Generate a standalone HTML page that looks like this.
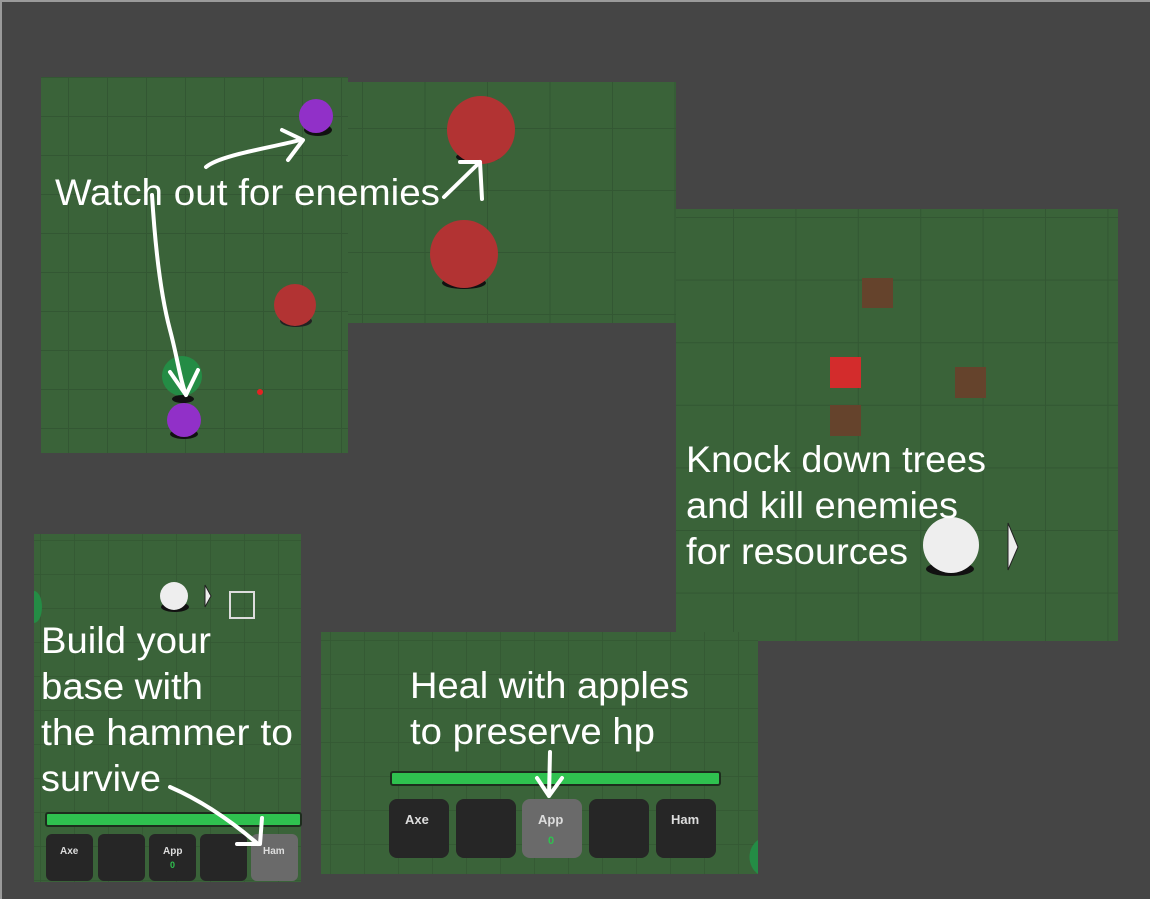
<!DOCTYPE html>
<html><head><meta charset="utf-8"><style>
html,body{margin:0;padding:0;background:#444;}
svg{display:block}
text{font-family:"Liberation Sans",sans-serif;fill:#fff;}
.s{font-family:"Liberation Sans",sans-serif;font-weight:bold;fill:#ddd;font-size:13px}
</style></head><body>
<svg width="1150" height="899" viewBox="0 0 1150 899" xmlns="http://www.w3.org/2000/svg">
<defs>
<pattern id="g1" x="29" y="-1" width="39" height="39" patternUnits="userSpaceOnUse"><rect width="39" height="39" fill="#3a6339"/><path d="M0 0V39M0 0H39" stroke="#335733" stroke-width="2" fill="none"/></pattern>
<pattern id="g2" x="362" y="128" width="62.5" height="62" patternUnits="userSpaceOnUse"><rect width="63" height="63" fill="#3a6339"/><path d="M0 0V63M0 0H63" stroke="#335733" stroke-width="2" fill="none"/></pattern>
<pattern id="g3" x="733" y="217" width="62.4" height="62.6" patternUnits="userSpaceOnUse"><rect width="63" height="63" fill="#3a6339"/><path d="M0 0V63M0 0H63" stroke="#335733" stroke-width="2" fill="none"/></pattern>
<pattern id="g4" x="40" y="540" width="34" height="34" patternUnits="userSpaceOnUse"><rect width="34" height="34" fill="#3a6339"/><path d="M0 0V34M0 0H34" stroke="#335733" stroke-width="1.5" fill="none"/></pattern>
<pattern id="g5" x="330" y="640" width="34" height="34" patternUnits="userSpaceOnUse"><rect width="34" height="34" fill="#3a6339"/><path d="M0 0V34M0 0H34" stroke="#335733" stroke-width="1.5" fill="none"/></pattern>
</defs>
<rect width="1150" height="899" fill="#454545"/>
<rect x="0" y="0" width="1150" height="2" fill="#9a9a9a"/>
<rect x="0" y="0" width="2" height="899" fill="#9a9a9a"/>
<!-- panels -->
<rect x="348" y="82" width="328" height="241" fill="url(#g2)"/>
<rect x="41" y="77" width="307" height="376" fill="url(#g1)"/>
<rect x="676" y="209" width="442" height="432" fill="url(#g3)"/>
<rect x="34" y="534" width="267" height="348" fill="url(#g4)"/>
<rect x="321" y="632" width="437" height="242" fill="url(#g5)"/>
<!-- panel1 objects -->
<ellipse cx="318" cy="130" rx="14" ry="6" fill="#111"/>
<circle cx="316" cy="116" r="17" fill="#9130c8"/>
<ellipse cx="296" cy="321" rx="16" ry="6" fill="#222"/>
<circle cx="295" cy="305" r="21" fill="#b23333"/>
<circle cx="182" cy="376" r="20" fill="#248c45"/>
<ellipse cx="183" cy="399" rx="11" ry="4" fill="#111"/>
<ellipse cx="184" cy="434" rx="14" ry="5" fill="#111"/>
<circle cx="184" cy="420" r="17" fill="#9130c8"/>
<circle cx="260" cy="392" r="3" fill="#e52222"/>
<ellipse cx="478" cy="157" rx="22" ry="6" fill="#111"/>
<circle cx="481" cy="130" r="34" fill="#b23333"/>
<ellipse cx="464" cy="283" rx="22" ry="6" fill="#111"/>
<circle cx="464" cy="254" r="34" fill="#b23333"/>
<!-- panel3 objects -->
<rect x="862" y="278" width="31" height="30" fill="#65432c"/>
<rect x="830" y="357" width="31" height="31" fill="#d32c2c"/>
<rect x="955" y="367" width="31" height="31" fill="#65432c"/>
<rect x="830" y="405" width="31" height="31" fill="#65432c"/>
<ellipse cx="950" cy="569" rx="24" ry="7" fill="#111"/>
<circle cx="951" cy="545" r="28" fill="#eee"/>
<path d="M1008 523 L1018 547 L1008 570 Z" fill="#eee" stroke="#222" stroke-width="1"/>
<!-- panel4 objects -->
<path d="M34 591 a8 16 0 0 1 0 32 Z" fill="#248c45"/>
<ellipse cx="175" cy="607" rx="14" ry="5" fill="#111"/>
<circle cx="174" cy="596" r="14" fill="#eee"/>
<path d="M205 585 L211 596 L205 607 Z" fill="#eee" stroke="#222" stroke-width="1"/>
<rect x="230" y="592" width="24" height="26" fill="none" stroke="#ddd" stroke-width="2"/>
<rect x="46" y="813" width="255" height="13" rx="2" fill="#2fc14f" stroke="#1d2d1d" stroke-width="2"/>
<rect x="46" y="834" width="47" height="47" rx="6" fill="#262626"/>
<rect x="98" y="834" width="47" height="47" rx="6" fill="#262626"/>
<rect x="149" y="834" width="47" height="47" rx="6" fill="#262626"/>
<rect x="200" y="834" width="47" height="47" rx="6" fill="#262626"/>
<rect x="251" y="834" width="47" height="47" rx="6" fill="#6a6a6a"/>
<text class="s" x="60" y="854" style="font-size:10px">Axe</text>
<text class="s" x="163" y="854" style="font-size:10px">App</text>
<text class="s" x="170" y="868" style="font-size:9px;fill:#2fc14f">0</text>
<text class="s" x="263" y="854" style="font-size:10px">Ham</text>
<!-- panel5 objects -->
<rect x="391" y="772" width="329" height="13" rx="2" fill="#2fc14f" stroke="#1d2d1d" stroke-width="2"/>
<rect x="389" y="799" width="60" height="59" rx="8" fill="#262626"/>
<rect x="456" y="799" width="60" height="59" rx="8" fill="#262626"/>
<rect x="522" y="799" width="60" height="59" rx="8" fill="#6a6a6a"/>
<rect x="589" y="799" width="60" height="59" rx="8" fill="#262626"/>
<rect x="656" y="799" width="60" height="59" rx="8" fill="#262626"/>
<text class="s" x="405" y="824">Axe</text>
<text class="s" x="538" y="824">App</text>
<text class="s" x="548" y="844" style="fill:#2fc14f;font-size:11px">0</text>
<text class="s" x="671" y="824">Ham</text>
<path d="M758 840 a18 20 0 0 0 0 34 Z" fill="#248c45"/>
<!-- arrows -->
<g fill="none" stroke="#fff" stroke-width="4" stroke-linecap="round" stroke-linejoin="round">
<path d="M152 195 C156 260,162 300,170 330 C178 360,180 380,186 395"/>
<path d="M170 372 L186 395 L198 370"/>
<path d="M206 167 C220 155,270 148,300 140"/>
<path d="M282 130 L303 140 L288 160"/>
<path d="M444 197 L480 162 L482 199"/>
<path d="M460 162 L480 162"/>
<path d="M170 787 C200 800,230 820,258 844"/>
<path d="M237 844 L260 844 L262 818"/>
<path d="M550 752 L549 796 M537 778 L549 796 L562 778"/>
</g>
<!-- labels -->
<g style="font-size:37px">
<text x="55" y="205" textLength="385" lengthAdjust="spacingAndGlyphs">Watch out for enemies</text>
<text x="686" y="472" textLength="300" lengthAdjust="spacingAndGlyphs">Knock down trees</text>
<text x="686" y="518" textLength="272" lengthAdjust="spacingAndGlyphs">and kill enemies</text>
<text x="686" y="564" textLength="222" lengthAdjust="spacingAndGlyphs">for resources</text>
<text x="41" y="653" textLength="170" lengthAdjust="spacingAndGlyphs">Build your</text>
<text x="41" y="699" textLength="162" lengthAdjust="spacingAndGlyphs">base with</text>
<text x="41" y="745" textLength="252" lengthAdjust="spacingAndGlyphs">the hammer to</text>
<text x="41" y="791" textLength="120" lengthAdjust="spacingAndGlyphs">survive</text>
<text x="410" y="698" textLength="279" lengthAdjust="spacingAndGlyphs">Heal with apples</text>
<text x="410" y="744" textLength="245" lengthAdjust="spacingAndGlyphs">to preserve hp</text>
</g>
</svg>
</body></html>
